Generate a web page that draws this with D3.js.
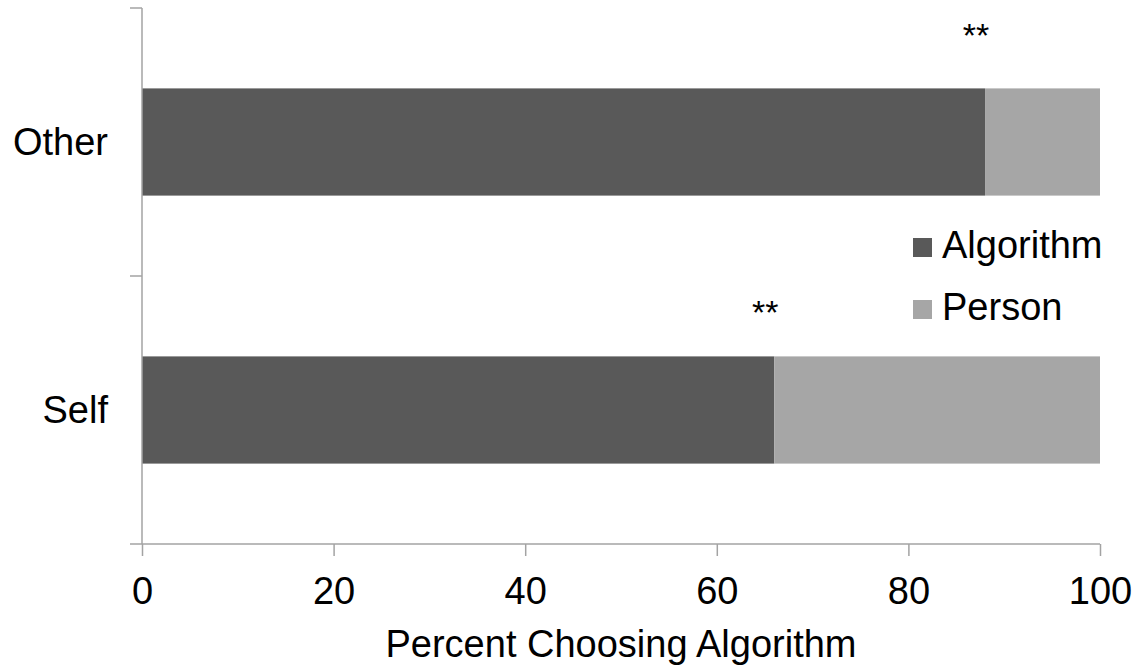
<!DOCTYPE html>
<html>
<head>
<meta charset="utf-8">
<script src="https://cdn.jsdelivr.net/npm/d3@7"></script>
<style>
  html, body { margin: 0; padding: 0; background: #fff; }
  svg { display: block; }
  text { font-family: "Liberation Sans", Arial, sans-serif; fill: #000; }
</style>
</head>
<body>
<svg id="chart" width="1140" height="669"></svg>
<script>
// ---- data ----
const categories = ["Other", "Self"];
const seriesNames = ["Algorithm", "Person"];
const algorithmPct = [88, 66];
const personPct = [12, 34];
const xTicks = [0, 20, 40, 60, 80, 100];
const xTitle = "Percent Choosing Algorithm";
const sigLabels = ["**", "**"];

const colors = { Algorithm: "#595959", Person: "#a6a6a6" };
const axisColor = "#a3a3a3";
const FS = 38;

const svg = d3.select("#chart");
const margin = { left: 142, right: 40, top: 8, bottom: 125 };

const x = d3.scaleLinear().domain([0, 100]).range([margin.left, 1100]);
const y = d3.scaleBand().domain(categories).range([margin.top, 544]).paddingInner(0.6).paddingOuter(0.3);
const yOuter = d3.scaleBand().domain(categories).range([margin.top, 544]);

const rows = categories.map((c, i) => ({ cat: c, Algorithm: algorithmPct[i], Person: personPct[i] }));
const stack = d3.stack().keys(seriesNames)(rows);

// bars
svg.append("g").selectAll("g").data(stack).join("g")
  .attr("fill", d => colors[d.key])
  .selectAll("rect").data(d => d).join("rect")
  .attr("x", d => x(d[0]))
  .attr("width", d => x(d[1]) - x(d[0]))
  .attr("y", d => y(d.data.cat))
  .attr("height", y.bandwidth());

// x axis
const xAxis = svg.append("g").attr("transform", "translate(0,544)")
  .call(d3.axisBottom(x).tickValues(xTicks).tickSize(12).tickPadding(21).tickSizeOuter(0));
xAxis.select(".domain").remove();
xAxis.append("line").attr("x1", 130).attr("x2", x(100)).attr("y1", 0).attr("y2", 0);
xAxis.selectAll("line").attr("stroke", axisColor).attr("stroke-width", 1.5);
xAxis.selectAll("text").attr("font-size", FS).attr("fill", "#000")
  .attr("font-family", "Liberation Sans, Arial, sans-serif");

// y axis
const yAxisG = svg.append("g");
yAxisG.append("line").attr("x1", x(0)).attr("x2", x(0)).attr("y1", margin.top).attr("y2", 544)
  .attr("stroke", axisColor).attr("stroke-width", 1.5);
const boundaries = categories.map(c => yOuter(c));
yAxisG.selectAll("line.tick").data(boundaries).join("line").attr("class", "tick")
  .attr("x1", 130).attr("x2", x(0)).attr("y1", d => d).attr("y2", d => d)
  .attr("stroke", axisColor).attr("stroke-width", 1.5);
yAxisG.selectAll("text").data(categories).join("text")
  .attr("x", 108).attr("y", d => y(d) + y.bandwidth() / 2 + 13)
  .attr("text-anchor", "end").attr("font-size", FS).text(d => d);

// x title
svg.append("text").attr("x", (x(0) + x(100)) / 2).attr("y", 657)
  .attr("text-anchor", "middle").attr("font-size", FS).text(xTitle);

// significance marks
const sigOffsets = [57, 48];
svg.selectAll("text.sig").data(categories).join("text").attr("class", "sig")
  .attr("x", (d, i) => x(algorithmPct[i]) - 9)
  .attr("y", (d, i) => y(d) - sigOffsets[i] + 16)
  .attr("text-anchor", "middle")
  .attr("font-family", "Liberation Serif, Times New Roman, serif")
  .attr("font-size", 34)
  .text((d, i) => sigLabels[i]);

// legend
const lg = svg.append("g").attr("transform", "translate(913,238)");
const li = lg.selectAll("g").data(seriesNames).join("g")
  .attr("transform", (d, i) => `translate(0,${i * 62})`);
li.append("rect").attr("width", 19).attr("height", 19).attr("fill", d => colors[d]);
li.append("text").attr("x", 29).attr("y", 20).attr("font-size", FS).text(d => d);
</script>
</body>
</html>
